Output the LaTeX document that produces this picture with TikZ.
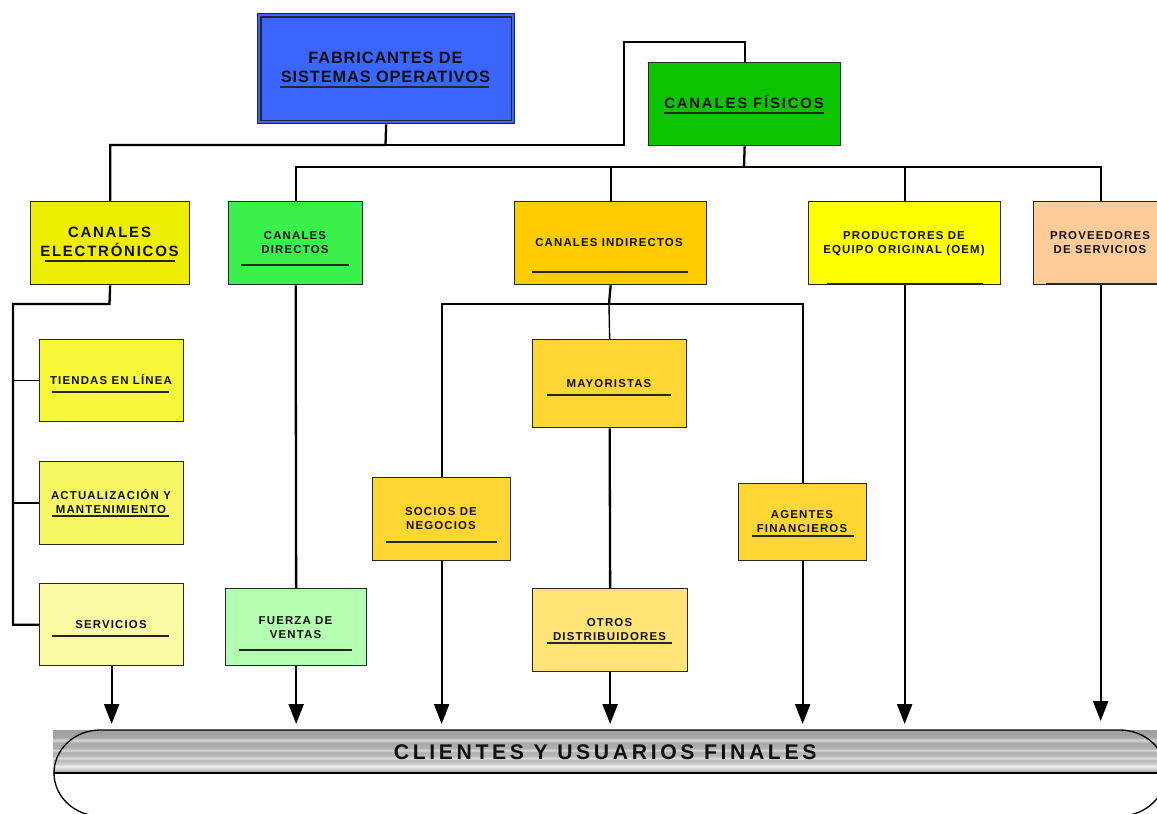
\documentclass[tikz,border=0pt]{standalone}
\usepackage{fontspec}
\usetikzlibrary{arrows.meta,calc}

% Label fonts (Arial-metric sans, letter-spaced)
\newfontfamily\lblfont{Liberation Sans}[LetterSpace=10]
\newfontfamily\fabfont{Liberation Sans}[LetterSpace=5]
\newfontfamily\bigfont{Liberation Sans}[LetterSpace=12]
\newfontfamily\cliefont{Liberation Sans}[LetterSpace=17]

% Box fills
\definecolor{cFab}{HTML}{3A66FF}
\definecolor{cFis}{HTML}{0CC400}
\definecolor{cElec}{HTML}{EEEE00}
\definecolor{cDir}{HTML}{3BF04B}
\definecolor{cInd}{HTML}{FFCC00}
\definecolor{cOem}{HTML}{FFFF00}
\definecolor{cProv}{HTML}{FFCC99}
\definecolor{cTie}{HTML}{F7F73A}
\definecolor{cAct}{HTML}{F8F865}
\definecolor{cSer}{HTML}{FAFAA5}
\definecolor{cFue}{HTML}{B5FDB0}
\definecolor{cMay}{HTML}{FFD633}
\definecolor{cOtr}{HTML}{FFE375}
\definecolor{ink}{HTML}{111111}

% Striped grey band for the customers bar
\pgfdeclareverticalshading{bandshade}{100bp}{%
  color(0bp)=(black!30); color(25bp)=(black!30); color(28.5bp)=(black!27);
  color(30.8bp)=(black!15); color(33.1bp)=(black!7); color(35.5bp)=(black!18);
  color(40.1bp)=(black!29); color(42.4bp)=(black!13); color(44.8bp)=(black!27);
  color(49.4bp)=(black!31); color(51.7bp)=(black!15); color(54.1bp)=(black!31);
  color(59.9bp)=(black!34); color(63.4bp)=(black!17); color(66.9bp)=(black!35);
  color(75bp)=(black!38); color(100bp)=(black!38)}

\begin{document}
\begin{tikzpicture}[x=1bp,y=-1bp,
  box/.style={draw=black!85, line width=1.3bp, inner sep=0pt, anchor=north west},
  lbl/.style={inner sep=0pt, anchor=base, text=ink,
    font=\lblfont\bfseries\fontsize{11.5}{14}\selectfont},
  fablbl/.style={lbl, font=\fabfont\bfseries\fontsize{16.5}{19}\selectfont},
  biglbl/.style={lbl, font=\bigfont\bfseries\fontsize{15}{19}\selectfont},
  uline/.style={draw=black!85, line width=1.4bp},
  conn/.style={draw=black, line width=2.3bp},
  thinconn/.style={draw=black, line width=1.4bp},
  arr/.style={conn, -{Triangle[width=15bp,length=20bp]}, shorten >=6bp}]

\useasboundingbox (0,0) rectangle (1157,814);
\clip (0,0) rectangle (1157,814);

% ---------- boxes ----------
\node[box, fill=cFab, minimum width=257bp, minimum height=110bp] (fab) at (257,13) {};
\draw[draw=black!85, line width=1.3bp] ([shift={(4,4)}]fab.north west) rectangle ([shift={(-4,-4)}]fab.south east);
\node[box, fill=cFis, minimum width=192bp, minimum height=83bp] (fis) at (648,62) {};

\node[box, fill=cElec, minimum width=159bp, minimum height=83bp] (elec) at (30,201) {};
\node[box, fill=cDir, minimum width=134bp, minimum height=83bp] (dir) at (228,201) {};
\node[box, fill=cInd, minimum width=192bp, minimum height=83bp] (ind) at (514,201) {};
\node[box, fill=cOem, minimum width=192bp, minimum height=83bp] (oem) at (808,201) {};
\node[box, fill=cProv, minimum width=134bp, minimum height=83bp] (prov) at (1033,201) {};

\node[box, fill=cTie, minimum width=144bp, minimum height=82bp] (tie) at (39,339) {};
\node[box, fill=cAct, minimum width=144bp, minimum height=83bp] (act) at (39,461) {};
\node[box, fill=cSer, minimum width=144bp, minimum height=82bp] (ser) at (39,583) {};

\node[box, fill=cFue, minimum width=141bp, minimum height=77bp] (fue) at (225,588) {};

\node[box, fill=cMay, minimum width=154bp, minimum height=88bp] (may) at (532,339) {};
\node[box, fill=cMay, minimum width=138bp, minimum height=83bp] (soc) at (372,477) {};
\node[box, fill=cOtr, minimum width=155bp, minimum height=83bp] (otr) at (532,588) {};
\node[box, fill=cMay, minimum width=128bp, minimum height=77bp] (age) at (738,483) {};

% ---------- customers bar ----------
\node[anchor=north west, inner sep=0pt, minimum width=1104bp, minimum height=43bp,
      shading=bandshade, shade, text=ink,
      font=\cliefont\bfseries\fontsize{21.3}{24}\selectfont] (cli) at (53,730)
      {CLIENTES Y USUARIOS FINALES};
\draw[line width=1.3bp] (100,730) -- (1120,730)
  .. controls (1145,730) and (1166,749) .. (1166,773)
  .. controls (1166,797) and (1145,816) .. (1120,816) -- (100,816)
  .. controls (75,816) and (54,797) .. (54,773)
  .. controls (54,749) and (75,730) .. (100,730);
\draw[line width=1.3bp] (54,773) -- (1166,773);

% ---------- labels ----------
\node[fablbl] (t-fab1) at (385.5,63.9) {FABRICANTES DE};
\node[fablbl] (t-fab2) at (385.5,82.9) {SISTEMAS OPERATIVOS};
\draw[uline] (280,87) -- (489,87);

\node[biglbl] (t-fis) at (744,108.4) {CANALES FÍSICOS};
\draw[uline] (664,113) -- (824,113);

\node[biglbl] (t-elec1) at (109.5,237.4) {CANALES};
\node[biglbl] (t-elec2) at (109.5,256.4) {ELECTRÓNICOS};
\draw[uline] (45,261) -- (175,261);

\node[lbl] (t-dir1) at (295,239.1) {CANALES};
\node[lbl] (t-dir2) at (295,253.1) {DIRECTOS};
\draw[uline] (241,265) -- (349,265);

\node[lbl] (t-ind) at (609,246.1) {CANALES INDIRECTOS};
\draw[uline] (532,272) -- (688,272);

\node[lbl] (t-oem1) at (904,239.1) {PRODUCTORES DE};
\node[lbl] (t-oem2) at (904,253.1) {EQUIPO ORIGINAL (OEM)};
\draw[uline, line width=2.4bp] (827,284) -- (983,284);

\node[lbl] (t-prov1) at (1100,239.1) {PROVEEDORES};
\node[lbl] (t-prov2) at (1100,253.1) {DE SERVICIOS};
\draw[uline, line width=2.4bp] (1046,284) -- (1157,284);

\node[lbl] (t-tie) at (111,384.1) {TIENDAS EN LÍNEA};
\draw[uline] (52,392) -- (169,392);

\node[lbl] (t-act1) at (111,499.1) {ACTUALIZACIÓN Y};
\node[lbl] (t-act2) at (111,513.1) {MANTENIMIENTO};
\draw[uline] (52,516) -- (169,516);

\node[lbl] (t-ser) at (111,628.1) {SERVICIOS};
\draw[uline] (52,636) -- (169,636);

\node[lbl] (t-fue1) at (295.5,624.1) {FUERZA DE};
\node[lbl] (t-fue2) at (295.5,638.1) {VENTAS};
\draw[uline] (239,650) -- (352,650);

\node[lbl] (t-may) at (609,387.1) {MAYORISTAS};
\draw[uline] (547,395) -- (671,395);

\node[lbl] (t-soc1) at (441,515.1) {SOCIOS DE};
\node[lbl] (t-soc2) at (441,529.1) {NEGOCIOS};
\draw[uline] (386,542) -- (497,542);

\node[lbl] (t-otr1) at (609.5,626.1) {OTROS};
\node[lbl] (t-otr2) at (609.5,640.1) {DISTRIBUIDORES};
\draw[uline] (547,643) -- (672,643);

\node[lbl] (t-age1) at (802,518.1) {AGENTES};
\node[lbl] (t-age2) at (802,532.1) {FINANCIEROS};
\draw[uline] (752,536) -- (854,536);

% ---------- connectors ----------
\coordinate (fabbus) at (385.5,145);
\coordinate (jup1) at (624,145);
\coordinate (jup2) at (624,42);
\draw[conn] (fab.south) -- (fabbus) -| (elec.north);
\draw[conn] (fabbus) -- (jup1) -- (jup2) -| (fis.north);

\coordinate (fisbus) at (744,167);
\draw[conn] (fis.south) -- (fisbus);
\draw[conn] (dir.north) |- (fisbus) -| (prov.north);
\draw[conn] (ind.north) -- (ind.north |- fisbus);
\draw[conn] (oem.north) -- (oem.north |- fisbus);

\coordinate (ebus) at (109.5,304);
\coordinate (ecorner) at (13,304);
\draw[conn] (elec.south) -- (ebus) -- (ecorner) |- (ser.west);
\draw[thinconn] (tie.west) -- (tie.west -| ecorner);
\draw[thinconn] (act.west) -- (act.west -| ecorner);

\draw[conn] (dir.south) -- (fue.north);

\coordinate (ibus) at (609,304);
\draw[conn] (ind.south) -- (ibus);
\draw[conn] (soc.north) |- (ibus) -| (age.north);
\draw[thinconn] (ibus) -- (may.north);
\draw[conn] (may.south) -- (otr.north);

% ---------- arrows into the customers bar ----------
\draw[arr] (ser.south) -- (ser.south |- cli.north);
\draw[arr] (fue.south) -- (fue.south |- cli.north);
\draw[arr] (soc.south) -- (soc.south |- cli.north);
\draw[arr] (otr.south) -- (otr.south |- cli.north);
\draw[arr] (age.south) -- (age.south |- cli.north);
\draw[arr] (oem.south) -- (oem.south |- cli.north);
\draw[arr] (prov.south) -- ([yshift=3bp]prov.south |- cli.north);

\end{tikzpicture}
\end{document}
